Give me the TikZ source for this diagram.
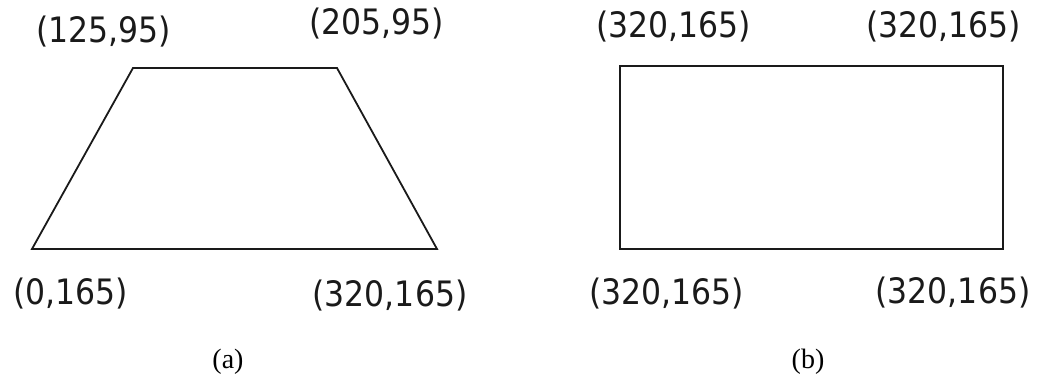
\documentclass[tikz,border=0pt]{standalone}
\usepackage{fontspec}
\usepackage{xcolor}
\usepackage{tikz}
\usetikzlibrary{positioning}
\newfontfamily\ptfont[FakeStretch=0.9]{DejaVu Sans}
\setmainfont{Liberation Serif}
\definecolor{edgec}{HTML}{1A1A1A}
\tikzset{
  edge/.style={line width=1.8pt,edgec,line join=miter},
  pt/.style={font=\ptfont\fontsize{35}{40}\selectfont,inner sep=0pt,anchor=base,text=edgec},
  sublabel/.style={font=\fontsize{28}{32}\selectfont,inner sep=0pt,anchor=base}
}

\begin{document}
\begin{tikzpicture}[x=1pt,y=-1pt]
\useasboundingbox (0,0) rectangle (1041,385);
% (a) trapezoid
\coordinate (atl) at (133,68);
\coordinate (atr) at (337,68);
\coordinate (abr) at (437,249);
\coordinate (abl) at (32,249);
\draw[edge] (atl) -- (atr) -- (abr) -- (abl) -- cycle;
\node[pt] (latl) at (103.5,43) {(125,95)};
\node[pt] (latr) at (376.5,35) {(205,95)};
\node[pt] (labl) at (70.5,304) {(0,165)};
\node[pt] (labr) at (390,306) {(320,165)};
% (b) rectangle
\coordinate (btl) at (620,66);
\coordinate (bbr) at (1003,249);
\draw[edge] (btl) rectangle (bbr);
\node[pt] (lbtl) at (673.5,38) {(320,165)};
\node[pt] (lbtr) at (943.5,38) {(320,165)};
\node[pt] (lbbl) at (666.5,304) {(320,165)};
\node[pt] (lbbr) at (953,303) {(320,165)};
% captions
\node[sublabel] (capa) at (228,368) {(a)};
\node[sublabel] (capb) at (808,368) {(b)};
\end{tikzpicture}
\end{document}
